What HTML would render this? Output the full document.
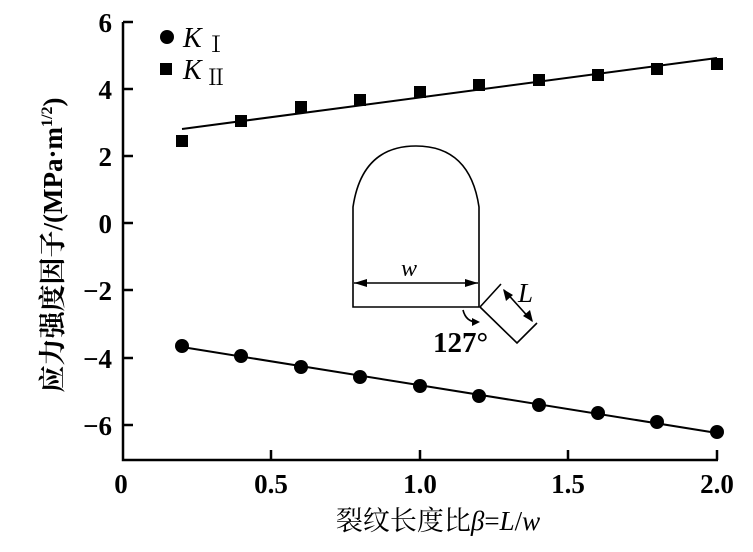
<!DOCTYPE html>
<html><head><meta charset="utf-8"><style>body{margin:0;background:#fff}</style></head><body>
<svg width="753" height="547" xmlns="http://www.w3.org/2000/svg" font-family="Liberation Serif, Noto Serif CJK SC, serif">
<g stroke="#000" stroke-width="2.5" fill="none">
<path d="M123,22 V460 H718"/>
<path d="M123,22 h10 M123,89 h10 M123,156 h10 M123,223 h10 M123,290 h10 M123,358 h10 M123,425 h10"/>
<path d="M271,460 v-10 M420,460 v-10 M568,460 v-10 M717,460 v-10"/>
</g>
<g font-size="27" font-weight="bold" text-anchor="end">
<text x="112" y="32">6</text><text x="112" y="99">4</text><text x="112" y="166">2</text><text x="112" y="233">0</text>
<text x="112" y="300">−2</text><text x="112" y="368">−4</text><text x="112" y="435">−6</text>
</g>
<g font-size="27" font-weight="bold" text-anchor="middle">
<text x="121" y="493">0</text><text x="271" y="493">0.5</text><text x="420" y="493">1.0</text><text x="568" y="493">1.5</text><text x="717" y="493">2.0</text>
</g>
<text x="438" y="530" font-size="27" text-anchor="middle">裂纹长度比<tspan font-style="italic">β</tspan>=<tspan font-style="italic">L</tspan>/<tspan font-style="italic">w</tspan></text>
<text transform="translate(62,245) rotate(-90)" font-size="27" font-weight="bold" text-anchor="middle">应力强度因子/(MPa·m<tspan font-size="16" dy="-10">1/2</tspan><tspan dy="10">)</tspan></text>
<circle cx="167" cy="37" r="7"/><text x="183" y="47" font-size="28" font-style="italic">K</text><text x="205" y="52" font-size="22">Ⅰ</text>
<rect x="160" y="63" width="12" height="12"/><text x="183" y="79" font-size="28" font-style="italic">K</text><text x="205" y="85" font-size="22">Ⅱ</text>
<g stroke="#000" stroke-width="2">
<line x1="182" y1="129" x2="717" y2="58"/>
<line x1="182" y1="347" x2="717" y2="433"/>
</g>
<g>
<rect x="176" y="135" width="12" height="12"/><rect x="235" y="115" width="12" height="12"/><rect x="295" y="101" width="12" height="12"/><rect x="354" y="94" width="12" height="12"/><rect x="414" y="86" width="12" height="12"/><rect x="473" y="79" width="12" height="12"/><rect x="533" y="74" width="12" height="12"/><rect x="592" y="69" width="12" height="12"/><rect x="651" y="63" width="12" height="12"/><rect x="711" y="58" width="12" height="12"/>
<circle cx="182" cy="346" r="7"/><circle cx="241" cy="356" r="7"/><circle cx="301" cy="367" r="7"/><circle cx="360" cy="377" r="7"/><circle cx="420" cy="386" r="7"/><circle cx="479" cy="396" r="7"/><circle cx="539" cy="405" r="7"/><circle cx="598" cy="413" r="7"/><circle cx="657" cy="422" r="7"/><circle cx="717" cy="432" r="7"/>
</g>
<g stroke="#000" stroke-width="1.6" fill="none">
<path d="M353,307 V207 Q362,146 416,146 Q470,146 479,207 V307 Z"/>
<path d="M354,283 H478"/>
<path d="M480,307 L501,284 M480,307 L517,343 L537,323"/>
<path d="M504,290 L532,321"/>
<path d="M463,310 Q466,322 477,322"/>
</g>
<g fill="#000">
<path d="M354,283 l13,-4 v8 z M478,283 l-13,-4 v8 z"/>
<path d="M503,289 l3,12 l7,-6 z M533,322 l-3,-12 l-7,6 z"/>
<path d="M480,322 l-8,-4 v8 z"/>
</g>
<text x="409" y="276" font-size="24" font-style="italic" text-anchor="middle">w</text>
<text x="518" y="302" font-size="27" font-style="italic">L</text>
<text x="433" y="352" font-size="29" font-weight="bold">127°</text>
</svg>
</body></html>
